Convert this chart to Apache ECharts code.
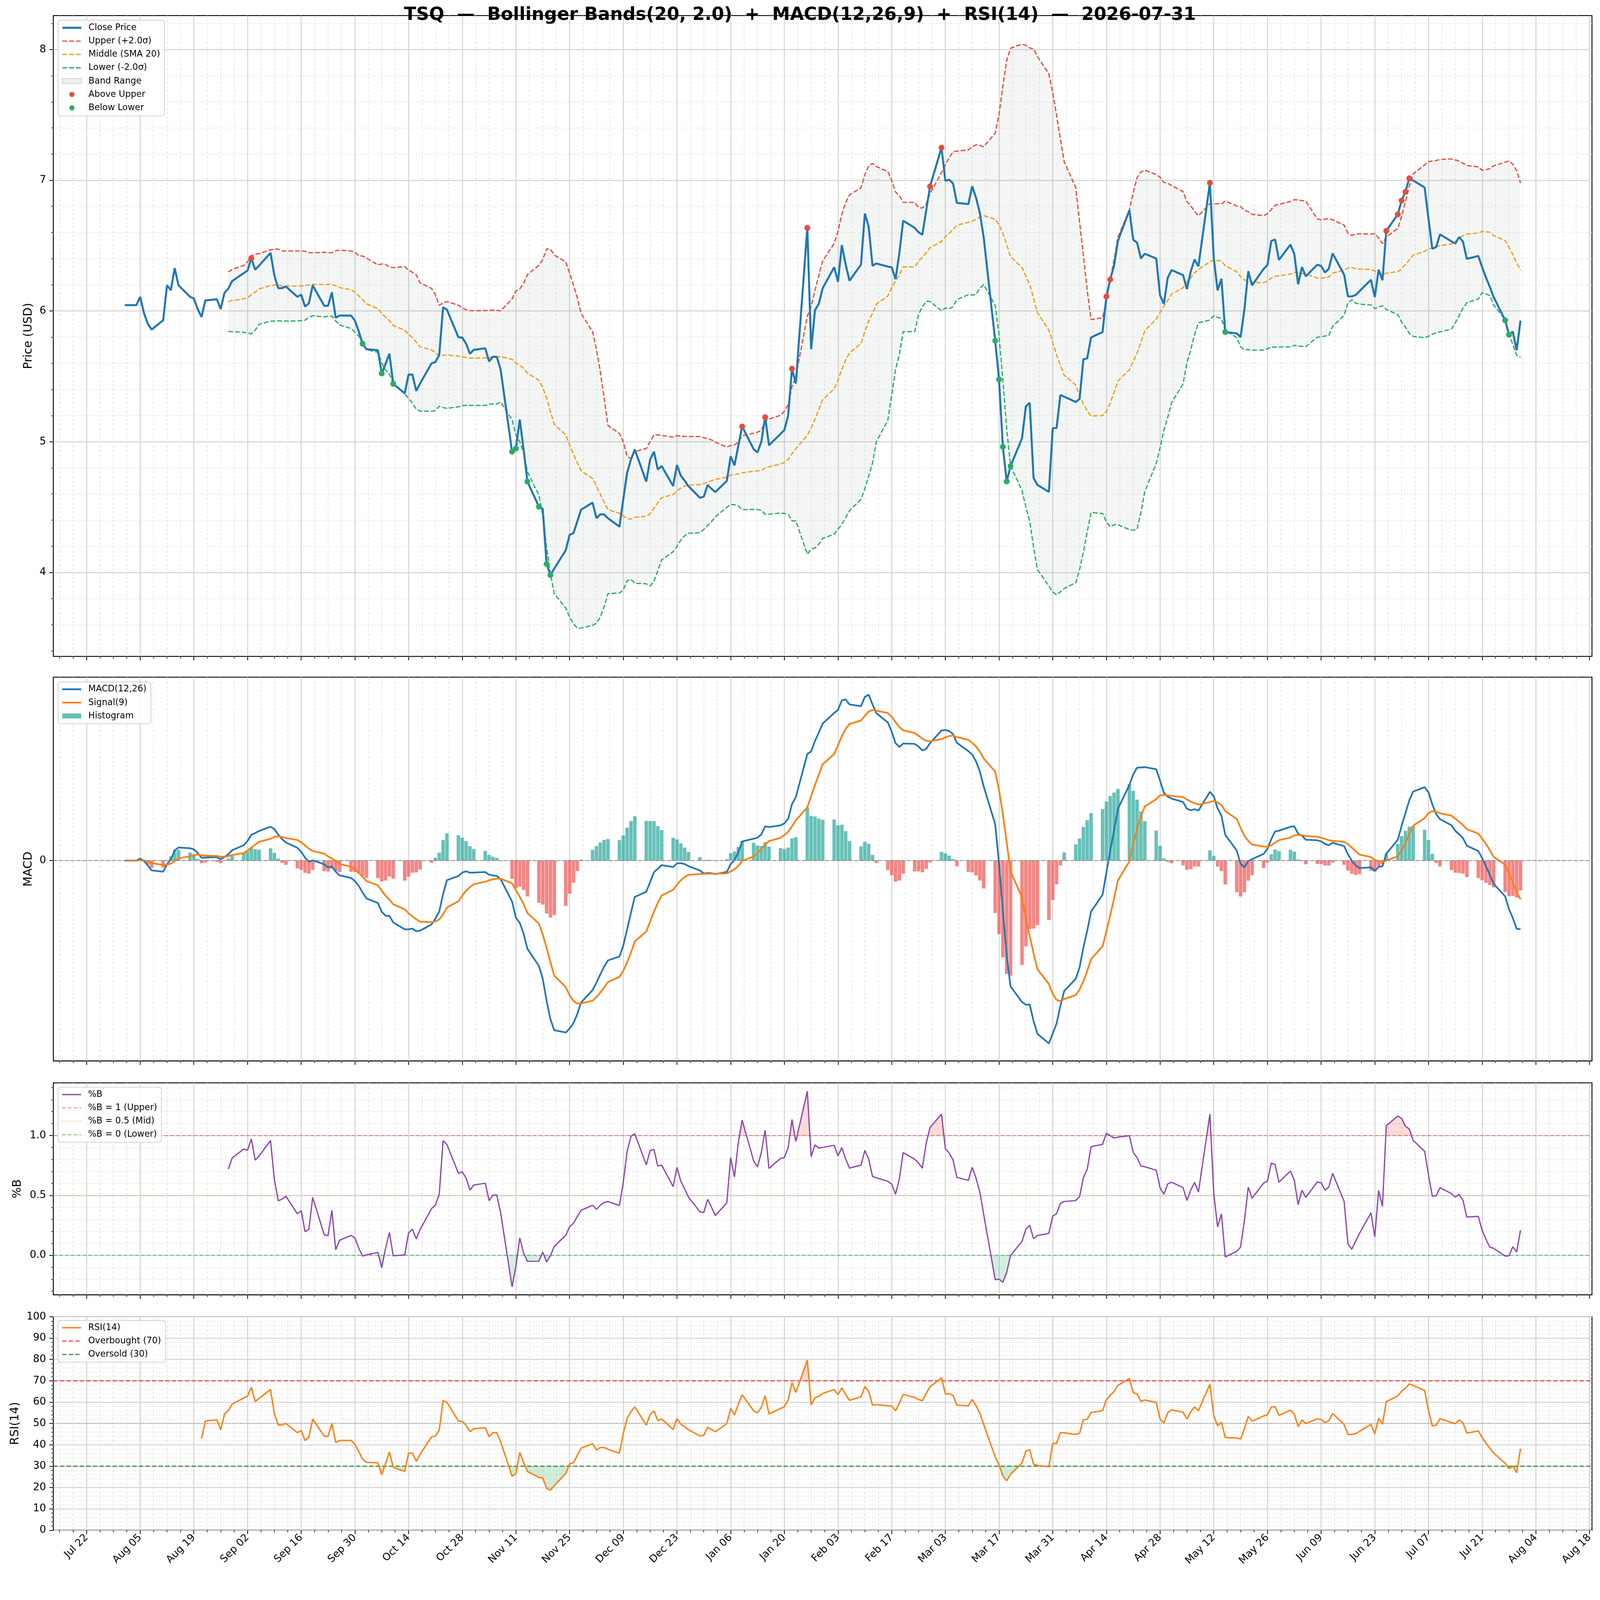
<!DOCTYPE html>
<html><head><meta charset="utf-8">
<script src="https://cdn.jsdelivr.net/npm/echarts@6/dist/echarts.min.js"></script>
<style>html,body{margin:0;padding:0;background:#fff;overflow:hidden}#c{width:100vw;height:100vh}</style>
</head><body><div id="c"></div>
<script>
// ---------------- DATA ----------------
const firstDate = '2025-08-01';   // business days (Mon-Fri) from firstDate to lastDate
const lastDate  = '2026-07-31';
const closePrices = [
  6.045,
  6.045, 6.108, 5.984, 5.902, 5.858,
  5.930, 6.197, 6.159, 6.328, 6.197,
  6.109, 6.096, 6.015, 5.955, 6.081,
  6.090, 6.015, 6.140, 6.172, 6.230,
  6.290, 6.309, 6.405, 6.316, 6.347,
  6.445, 6.272, 6.175, 6.175, 6.188,
  6.109, 6.125, 6.034, 6.059, 6.197,
  6.040, 6.040, 6.143, 5.949, 5.965,
  5.965, 5.927, 5.846, 5.750, 5.708,
  5.700, 5.523, 5.595, 5.674, 5.443,
  5.370, 5.514, 5.514, 5.389, 5.445,
  5.600, 5.610, 5.664, 6.028, 6.011,
  5.800, 5.797, 5.750, 5.673, 5.703,
  5.715, 5.614, 5.650, 5.650, 5.554,
  4.924, 4.949, 5.170, 4.940, 4.695,
  4.503, 4.486, 4.065, 3.980, 4.030,
  4.170, 4.288, 4.300, 4.390, 4.480,
  4.534, 4.415, 4.444, 4.444, 4.415,
  4.350, 4.560, 4.763, 4.864, 4.940,
  4.695, 4.864, 4.924, 4.788, 4.814,
  4.661, 4.822, 4.740, 4.703, 4.660,
  4.571, 4.580, 4.670, 4.640, 4.615,
  4.700, 4.888, 4.819, 4.968, 5.117,
  4.943, 4.918, 5.000, 5.188, 4.973,
  5.060, 5.089, 5.200, 5.559, 5.445,
  6.636, 5.708, 6.007, 6.056, 6.174,
  6.335, 6.224, 6.504, 6.356, 6.232,
  6.355, 6.746, 6.646, 6.346, 6.364,
  6.340, 6.335, 6.244, 6.442, 6.691,
  6.636, 6.603, 6.583, 6.770, 6.953,
  7.250, 6.996, 7.005, 6.977, 6.827,
  6.818, 6.955, 6.866, 6.750, 6.563,
  5.773, 5.477, 4.961, 4.696, 4.813,
  5.027, 5.271, 5.298, 4.723, 4.670,
  4.616, 5.104, 5.104, 5.357, 5.345,
  5.304, 5.327, 5.630, 5.638, 5.798,
  5.839, 6.111, 6.241, 6.348, 6.536,
  6.771, 6.545, 6.523, 6.402, 6.438,
  6.402, 6.120, 6.054, 6.255, 6.313,
  6.275, 6.168, 6.303, 6.394, 6.342,
  6.981, 6.405, 6.158, 6.247, 5.839,
  5.829, 5.800, 6.014, 6.305, 6.196,
  6.322, 6.351, 6.536, 6.547, 6.391,
  6.508, 6.438, 6.205, 6.336, 6.266,
  6.354, 6.345, 6.295, 6.322, 6.441,
  6.278, 6.112, 6.112, 6.122, 6.151,
  6.239, 6.107, 6.316, 6.235, 6.613,
  6.739, 6.845, 6.912, 7.016, 6.999,
  6.945, 6.707, 6.476, 6.489, 6.586,
  6.533, 6.516, 6.566, 6.531, 6.399,
  6.421, 6.336, 6.256, 6.185, 6.107,
  5.929, 5.819, 5.842, 5.700, 5.927
];
const aboveUpperDates = ['2025-09-03','2026-01-09','2026-01-15','2026-01-22','2026-01-26','2026-02-27',
  '2026-03-02','2026-04-14','2026-04-15','2026-05-11','2026-06-26','2026-06-29','2026-06-30','2026-07-01','2026-07-02'];
const belowLowerDates = ['2025-10-02','2025-10-07','2025-10-10','2025-11-10','2025-11-11','2025-11-14','2025-11-17',
  '2025-11-19','2025-11-20','2026-03-16','2026-03-17','2026-03-18','2026-03-19','2026-03-20','2026-05-15','2026-07-27','2026-07-28'];
const xTickLabels = ['Jul 22','Aug 05','Aug 19','Sep 02','Sep 16','Sep 30','Oct 14','Oct 28','Nov 11','Nov 25',
  'Dec 09','Dec 23','Jan 06','Jan 20','Feb 03','Feb 17','Mar 03','Mar 17','Mar 31','Apr 14','Apr 28','May 12',
  'May 26','Jun 09','Jun 23','Jul 07','Jul 21','Aug 04','Aug 18'];
const priceTicks = [4, 5, 6, 7, 8];
const pctBTicks = [0.0, 0.5, 1.0];
const rsiTicks = [0, 10, 20, 30, 40, 50, 60, 70, 80, 90, 100];
const macdTicks = [0];
const titleText = 'TSQ  \u2014  Bollinger Bands(20, 2.0)  +  MACD(12,26,9)  +  RSI(14)  \u2014  2026-07-31';

// ---------------- scale: design units are reference pixels (4378 x 4322) ----------------
const VW = window.innerWidth || 4378;
const SX = VW / 4378;
const k = v => v * SX;          // uniform scale for all sizes/positions
const ky = k;
const kd = a => a.map(k);       // dash arrays

// ---------------- helpers ----------------
const DAY = 86400000;
const T0 = Date.UTC(2025, 6, 22);           // x = days since Jul 22 2025 (first major tick)
const XMIN = -8.64, XMAX = 392.64;
function parseD(s){ const p = s.split('-').map(Number); return Date.UTC(p[0], p[1]-1, p[2]); }
const stamps = [];
for (let t = parseD(firstDate); t <= parseD(lastDate); t += DAY) {
  const wd = new Date(t).getUTCDay(); if (wd !== 0 && wd !== 6) stamps.push(t);
}
const xs = stamps.map(t => (t - T0) / DAY);
const isoIdx = {}; stamps.forEach((t, i) => { isoIdx[new Date(t).toISOString().slice(0,10)] = i; });
const N = closePrices.length;

// Bollinger (20, 2.0)
const upper = [], middle = [], lower = [], pctB = [];
for (let i = 0; i < N; i++) {
  if (i < 19) { upper.push(null); middle.push(null); lower.push(null); pctB.push(null); continue; }
  let s = 0; for (let j = i-19; j <= i; j++) s += closePrices[j];
  const m = s / 20; let v = 0;
  for (let j = i-19; j <= i; j++) v += (closePrices[j]-m)*(closePrices[j]-m);
  const sd = Math.sqrt(v / 19);
  upper.push(m + 2*sd); middle.push(m); lower.push(m - 2*sd);
  pctB.push((closePrices[i] - (m - 2*sd)) / (4*sd));
}
// MACD (12, 26, 9)
function ema(arr, span){ const a = 2/(span+1); const o = [arr[0]]; for (let i=1;i<arr.length;i++) o.push(a*arr[i] + (1-a)*o[i-1]); return o; }
const e12 = ema(closePrices, 12), e26 = ema(closePrices, 26);
const macd = e12.map((v, i) => v - e26[i]);
const signal = ema(macd, 9);
const hist = macd.map((v, i) => v - signal[i]);
// RSI(14)
const rsi = [null]; { const al = 1/14; let ng = 0, nl = 0;
  for (let i = 1; i < N; i++) { const d = closePrices[i] - closePrices[i-1];
    ng = ng*(1-al) + Math.max(d, 0); nl = nl*(1-al) + Math.max(-d, 0);
    rsi.push(i >= 14 ? 100 * ng / (ng + nl) : null); } }

const pts = arr => xs.map((x, i) => arr[i] == null ? null : [x, arr[i]]).filter(Boolean);

function fillPolys(vs, thr, above) {
  const cond = v => above ? v > thr : v < thr; const polys = []; let cur = null;
  for (let i = 0; i < N; i++) {
    const v = vs[i]; if (v == null) continue;
    const inside = cond(v);
    if (i > 0 && vs[i-1] != null) { const pv = vs[i-1]; const pin = cond(pv);
      if (pin !== inside) { const t = (thr - pv) / (v - pv); const xc = xs[i-1] + t*(xs[i]-xs[i-1]);
        if (pin) { cur.push([xc, thr]); polys.push(cur); cur = null; } else { cur = [[xc, thr]]; } } }
    if (inside) { if (!cur) cur = [[xs[i], thr]]; cur.push([xs[i], v]); }
  }
  if (cur) { cur.push([cur[cur.length-1][0], thr]); polys.push(cur); }
  return polys;
}
function polySeries(polys, color, xi, yi, z) {
  return { type: 'custom', xAxisIndex: xi, yAxisIndex: yi, z: z || 1, silent: true, clip: true,
    data: polys.map((p, i) => [p[0][0], p[0][1], i]), encode: { x: 0, y: 1 },
    renderItem: (params, api) => ({ type: 'polygon',
      shape: { points: polys[api.value(2)].map(p => api.coord(p)) }, style: { fill: color, stroke: null } }) };
}

// ---------------- layout ----------------
const FONT = 'DejaVu Sans';
const gridsRef = [
  { top: 42.7, height: 1753.3 },
  { top: 1853, height: 1050 },
  { top: 2963, height: 580 },
  { top: 3603, height: 584 }
];
const majorX = xTickLabels.map((_, i) => i * 14);
const minorX = []; for (let j = -2; j <= 112; j++) if (j % 4 !== 0) minorX.push(j * 3.5);
function minorList(a, b, step, majors) { const o = []; for (let v = a; v <= b + 1e-9; v += step) { const r = Math.round(v*1000)/1000; if (!majors.some(m => Math.abs(m - r) < 1e-6)) o.push(r); } return o; }

let lo = 0, hi = 0; macd.concat(signal, hist).forEach(v => { lo = Math.min(lo, v); hi = Math.max(hi, v); });
const mpad = (hi - lo) * 0.05;
const yRanges = [[3.358, 8.26], [lo - mpad, hi + mpad], [-0.33, 1.44], [0, 100]];
const yMajor = [priceTicks, macdTicks, pctBTicks, rsiTicks];
const yMinor = [minorList(3.4, 8.2, 0.2, priceTicks), [], minorList(-0.3, 1.4, 0.1, pctBTicks), minorList(2, 98, 2, rsiTicks)];
const yFmt = [v => String(Math.round(v)), v => '0', v => v.toFixed(1), v => String(Math.round(v))];
const yNames = ['Price (USD)', 'MACD', '%B', 'RSI(14)'];
const yNameGap = [52, 52, 82, 88];

const tickStyle = { color: '#000', width: k(2) };
const majGrid = { color: '#d2d2d2', width: k(2.6) };
const noLine = { show: false, onZero: false };
const xAxes = [], yAxes = [];
for (let g = 0; g < 4; g++) {
  xAxes.push({ type: 'value', gridIndex: g, min: XMIN, max: XMAX, position: 'bottom',
    axisLine: noLine,
    axisTick: { show: true, customValues: majorX, length: k(11), lineStyle: tickStyle },
    axisLabel: { show: g === 3, customValues: majorX, formatter: v => xTickLabels[Math.round(v/14)],
      rotate: 45, margin: k(16), fontSize: k(28), color: '#000', fontFamily: FONT },
    splitLine: { show: true, lineStyle: majGrid } });
  xAxes.push({ type: 'value', gridIndex: g, min: XMIN, max: XMAX, position: 'bottom',
    axisLine: noLine,
    axisTick: { show: true, customValues: minorX, length: k(6), lineStyle: { color: '#000', width: k(1.6) } },
    axisLabel: { show: false },
    splitLine: { show: true, lineStyle: { color: '#e2e2e2', width: k(2), type: kd([6, 6]) } } });
  yAxes.push({ type: 'value', gridIndex: g, min: yRanges[g][0], max: yRanges[g][1], position: 'left',
    axisLine: noLine,
    axisTick: { show: true, customValues: yMajor[g], length: k(11), lineStyle: tickStyle },
    axisLabel: { show: true, customValues: yMajor[g], formatter: yFmt[g], margin: k(20), fontSize: k(28), color: '#000', fontFamily: FONT },
    splitLine: { show: true, lineStyle: majGrid },
    name: yNames[g], nameLocation: 'middle', nameGap: k(yNameGap[g]), nameRotate: 90,
    nameTextStyle: { fontSize: k(32), color: '#000', fontFamily: FONT } });
  yAxes.push({ type: 'value', gridIndex: g, min: yRanges[g][0], max: yRanges[g][1], position: 'left',
    axisLine: noLine,
    axisTick: { show: yMinor[g].length > 0, customValues: yMinor[g].length ? yMinor[g] : [yRanges[g][0]], length: k(6), lineStyle: { color: '#000', width: k(1.6) } },
    axisLabel: { show: false },
    splitLine: { show: yMinor[g].length > 0, lineStyle: { color: '#e2e2e2', width: k(2), type: kd([3, 5]) } } });
}

const legendBase = { orient: 'vertical', left: k(159), itemWidth: k(52), itemHeight: k(14), itemGap: k(12.5),
  backgroundColor: 'rgba(255,255,255,0.85)', borderColor: '#cfcfcf', borderWidth: k(2), borderRadius: k(7),
  textStyle: { fontSize: k(24), lineHeight: k(24), color: '#000', fontFamily: FONT, padding: [0, 0, 0, k(14)] } };
// legend entry for a line: hide the default symbol, draw the line with its own style
const L = (name, color, width, type) => ({ name: name, itemStyle: { opacity: 0 },
  lineStyle: { color: color, width: k(width), type: type || 'solid', opacity: 1 } });

const bandPoly = [];
xs.forEach((x, i) => { if (upper[i] != null) bandPoly.push([x, upper[i]]); });
for (let i = N - 1; i >= 0; i--) if (lower[i] != null) bandPoly.push([xs[i], lower[i]]);

const dash = kd([13, 5.5]);
const series = [
  Object.assign(polySeries([bandPoly], 'rgba(110,140,125,0.08)', 0, 0, 1), { name: 'Band Range', itemStyle: { color: '#eef1ef', borderColor: '#cdd3cf', borderWidth: k(1.5) } }),
  { name: 'Upper (+2.0\u03c3)', type: 'line', xAxisIndex: 0, yAxisIndex: 0, data: pts(upper), symbol: 'none', z: 3,
    lineStyle: { color: '#e74c3c', width: k(3.4), type: dash }, itemStyle: { color: '#e74c3c' } },
  { name: 'Middle (SMA 20)', type: 'line', xAxisIndex: 0, yAxisIndex: 0, data: pts(middle), symbol: 'none', z: 3,
    lineStyle: { color: '#f39c12', width: k(3.4), type: dash }, itemStyle: { color: '#f39c12' } },
  { name: 'Lower (-2.0\u03c3)', type: 'line', xAxisIndex: 0, yAxisIndex: 0, data: pts(lower), symbol: 'none', z: 3,
    lineStyle: { color: '#27ae60', width: k(3.4), type: dash }, itemStyle: { color: '#27ae60' } },
  { name: 'Close Price', type: 'line', xAxisIndex: 0, yAxisIndex: 0, data: pts(closePrices), symbol: 'none', z: 4,
    lineStyle: { color: '#1f77b4', width: k(5.5) }, itemStyle: { color: '#1f77b4' } },
  { name: 'Above Upper', type: 'scatter', xAxisIndex: 0, yAxisIndex: 0, symbol: 'circle', symbolSize: k(16), z: 5,
    data: aboveUpperDates.map(s => [xs[isoIdx[s]], closePrices[isoIdx[s]]]), itemStyle: { color: '#e74c3c', opacity: 1 } },
  { name: 'Below Lower', type: 'scatter', xAxisIndex: 0, yAxisIndex: 0, symbol: 'circle', symbolSize: k(16), z: 5,
    data: belowLowerDates.map(s => [xs[isoIdx[s]], closePrices[isoIdx[s]]]), itemStyle: { color: '#27ae60', opacity: 1 } },
  // MACD
  { name: 'Histogram', type: 'bar', xAxisIndex: 2, yAxisIndex: 2, barWidth: k(9.5), z: 2,
    itemStyle: { color: 'rgba(38,166,154,0.7)' },
    data: hist.map((h, i) => ({ value: [xs[i], h], itemStyle: { color: h >= 0 ? 'rgba(38,166,154,0.7)' : 'rgba(239,83,80,0.7)' } })),
    markLine: { silent: true, symbol: 'none', label: { show: false }, data: [{ yAxis: 0 }],
      lineStyle: { color: '#8a8a8a', width: k(2.4), type: kd([10, 6]) } } },
  { name: 'MACD(12,26)', type: 'line', xAxisIndex: 2, yAxisIndex: 2, data: pts(macd), symbol: 'none', z: 4,
    lineStyle: { color: '#1f77b4', width: k(4.6) }, itemStyle: { color: '#1f77b4' } },
  { name: 'Signal(9)', type: 'line', xAxisIndex: 2, yAxisIndex: 2, data: pts(signal), symbol: 'none', z: 4,
    lineStyle: { color: '#ff7f0e', width: k(4.6) }, itemStyle: { color: '#ff7f0e' } },
  // %B
  polySeries(fillPolys(pctB, 1, true), 'rgba(231,76,60,0.2)', 4, 4, 1),
  polySeries(fillPolys(pctB, 0, false), 'rgba(39,174,96,0.2)', 4, 4, 1),
  { name: '%B = 1 (Upper)', type: 'line', xAxisIndex: 4, yAxisIndex: 4, data: [[XMIN, 1], [XMAX, 1]], symbol: 'none', z: 2,
    lineStyle: { color: 'rgba(231,76,60,0.65)', width: k(2.4), type: kd([10, 6]) }, itemStyle: { color: 'rgba(231,76,60,0.65)' } },
  { name: '%B = 0.5 (Mid)', type: 'line', xAxisIndex: 4, yAxisIndex: 4, data: [[XMIN, 0.5], [XMAX, 0.5]], symbol: 'none', z: 2,
    lineStyle: { color: 'rgba(243,156,18,0.55)', width: k(2.2), type: kd([3, 4]) }, itemStyle: { color: 'rgba(243,156,18,0.55)' } },
  { name: '%B = 0 (Lower)', type: 'line', xAxisIndex: 4, yAxisIndex: 4, data: [[XMIN, 0], [XMAX, 0]], symbol: 'none', z: 2,
    lineStyle: { color: 'rgba(39,174,96,0.7)', width: k(2.4), type: kd([10, 6]) }, itemStyle: { color: 'rgba(39,174,96,0.7)' } },
  { name: '%B', type: 'line', xAxisIndex: 4, yAxisIndex: 4, data: pts(pctB), symbol: 'none', z: 4,
    lineStyle: { color: '#8e44ad', width: k(3.4) }, itemStyle: { color: '#8e44ad' } },
  // RSI
  polySeries(fillPolys(rsi, 70, true), 'rgba(231,76,60,0.2)', 6, 6, 1),
  polySeries(fillPolys(rsi, 30, false), 'rgba(39,174,96,0.22)', 6, 6, 1),
  { name: 'RSI50', type: 'line', xAxisIndex: 6, yAxisIndex: 6, data: [[XMIN, 50], [XMAX, 50]], symbol: 'none', z: 2,
    lineStyle: { color: '#8c8c8c', width: k(2), type: kd([3, 4]) } },
  { name: 'Overbought (70)', type: 'line', xAxisIndex: 6, yAxisIndex: 6, data: [[XMIN, 70], [XMAX, 70]], symbol: 'none', z: 2,
    lineStyle: { color: '#e8413a', width: k(3), type: kd([12, 6]) }, itemStyle: { color: '#e8413a' } },
  { name: 'Oversold (30)', type: 'line', xAxisIndex: 6, yAxisIndex: 6, data: [[XMIN, 30], [XMAX, 30]], symbol: 'none', z: 2,
    lineStyle: { color: '#2f8f2f', width: k(3), type: kd([12, 6]) }, itemStyle: { color: '#2f8f2f' } },
  { name: 'RSI(14)', type: 'line', xAxisIndex: 6, yAxisIndex: 6, data: pts(rsi), symbol: 'none', z: 4,
    lineStyle: { color: '#ff7f0e', width: k(3.8) }, itemStyle: { color: '#ff7f0e' } }
];

const option = {
  animation: false, backgroundColor: '#fff',
  title: { text: titleText, left: 'center', top: ky(17), padding: 0,
    textStyle: { fontSize: k(49), fontWeight: 'bold', color: '#000', fontFamily: FONT } },
  grid: gridsRef.map(g => ({ show: true, borderColor: '#000', borderWidth: k(2.5), backgroundColor: 'transparent', containLabel: false,
    left: k(146), width: k(4210), top: ky(g.top), height: ky(g.height) })),
  xAxis: xAxes, yAxis: yAxes,
  legend: [
    Object.assign({}, legendBase, { top: ky(55), padding: [k(9), k(12), k(10), k(9)], data: [
      L('Close Price', '#1f77b4', 5.5), L('Upper (+2.0\u03c3)', '#e74c3c', 3.4, dash), L('Middle (SMA 20)', '#f39c12', 3.4, dash),
      L('Lower (-2.0\u03c3)', '#27ae60', 3.4, dash),
      { name: 'Band Range', icon: 'rect' }, { name: 'Above Upper', icon: 'circle' }, { name: 'Below Lower', icon: 'circle' }] }),
    Object.assign({}, legendBase, { top: ky(1866), padding: [k(8), k(12), k(9), k(9)], data: [
      L('MACD(12,26)', '#1f77b4', 4.6), L('Signal(9)', '#ff7f0e', 4.6), { name: 'Histogram', icon: 'rect' }] }),
    Object.assign({}, legendBase, { top: ky(2975), padding: [k(8), k(12), k(9), k(9)], data: [
      L('%B', '#8e44ad', 3.4), L('%B = 1 (Upper)', 'rgba(231,76,60,0.65)', 2.4, kd([10, 6])),
      L('%B = 0.5 (Mid)', 'rgba(243,156,18,0.55)', 2.2, kd([3, 4])), L('%B = 0 (Lower)', 'rgba(39,174,96,0.7)', 2.4, kd([10, 6]))] }),
    Object.assign({}, legendBase, { top: ky(3613), padding: [k(8), k(12), k(9), k(9)], data: [
      L('RSI(14)', '#ff7f0e', 3.8), L('Overbought (70)', '#e8413a', 3, kd([12, 6])), L('Oversold (30)', '#2f8f2f', 3, kd([12, 6]))] })
  ],
  series: series
};
const chart = echarts.init(document.getElementById('c'), null, { renderer: 'canvas' });
chart.setOption(option);
</script>
</body></html>
